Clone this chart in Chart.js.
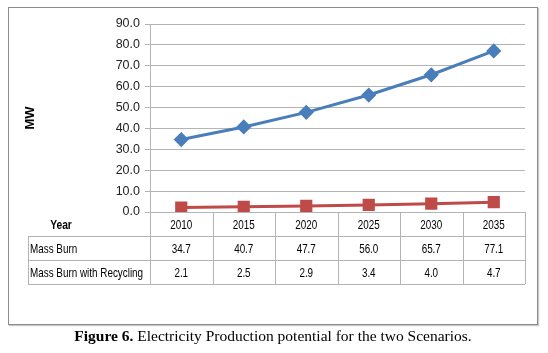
<!DOCTYPE html>
<html>
<head>
<meta charset="utf-8">
<script src="https://cdn.jsdelivr.net/npm/chart.js@4"></script>
<style>
  body{ margin:0; background:#fff; }
  #wrap{ position:relative; width:548px; height:353px; }
  #frame{ position:absolute; left:8px; top:7px; width:528px; height:316px; border:1px solid #8c8c8c; box-shadow:1px 1px 1px #c8c8c8; }
  canvas{ position:absolute; left:0; top:0; }
  #cap{ position:absolute; left:8px; width:530px; top:327px; text-align:center; font-family:'Liberation Serif','Times New Roman',serif; font-size:15.5px; color:#000; }
</style>
</head>
<body>
<div id="wrap">
  <div id="frame"></div>
  <canvas id="chart" width="548" height="353"></canvas>
  <div id="cap"><b>Figure 6.</b> Electricity Production potential for the two Scenarios.</div>
</div>
<script>
const years = ['2010','2015','2020','2025','2030','2035'];
const massBurn = [34.7, 40.7, 47.7, 56.0, 65.7, 77.1];
const massBurnRecycling = [2.1, 2.5, 2.9, 3.4, 4.0, 4.7];
const seriesNames = ['Mass Burn', 'Mass Burn with Recycling'];

const FONT = "'Liberation Sans',Arial,sans-serif";
const LINE = '#b4b4b4';
const SQUEEZE = 0.76; // narrow the table text (Calibri-like)

function txt(ctx, s, x, y, align){
  ctx.save();
  ctx.translate(x, y);
  ctx.scale(SQUEEZE, 1);
  ctx.textAlign = align;
  ctx.fillText(s, 0, 0);
  ctx.restore();
}

// data table under the plot, columns follow the x scale
const tablePlugin = {
  id:'dataTable',
  afterDraw(chart){
    const ctx = chart.ctx;
    const x = chart.scales.x;
    const area = chart.chartArea;
    const colW = area.width / years.length;
    const top = area.bottom, rowH = 24;
    const leftX = 28;
    ctx.save();
    ctx.strokeStyle = LINE;
    ctx.lineWidth = 1;
    ctx.beginPath();
    for(let r=1;r<=3;r++){
      const yy = Math.round(top + r*rowH) + 0.5;
      ctx.moveTo(leftX, yy); ctx.lineTo(area.right, yy);
    }
    for(let i=0;i<=years.length;i++){
      const xx = Math.round(area.left + i*colW) + 0.5;
      ctx.moveTo(xx, top); ctx.lineTo(xx, top + 3*rowH);
    }
    ctx.moveTo(leftX+0.5, top+rowH); ctx.lineTo(leftX+0.5, top+3*rowH);
    ctx.stroke();

    ctx.fillStyle = '#000';
    ctx.textBaseline = 'middle';
    ctx.font = 'bold 13.5px ' + FONT;
    txt(ctx, 'Year', 61, top + rowH/2 + 1, 'center');
    ctx.font = '13px ' + FONT;
    years.forEach((yr,i)=>{
      const cx = x.getPixelForValue(i);
      txt(ctx, yr, cx, top + rowH/2 + 1, 'center');
      txt(ctx, massBurn[i].toFixed(1), cx, top + rowH*1.5 + 1, 'center');
      txt(ctx, massBurnRecycling[i].toFixed(1), cx, top + rowH*2.5 + 1, 'center');
    });
    txt(ctx, seriesNames[0], 30, top + rowH*1.5 + 1, 'left');
    txt(ctx, seriesNames[1], 30, top + rowH*2.5 + 1, 'left');
    ctx.restore();
  }
};

new Chart(document.getElementById('chart'), {
  type:'line',
  data:{
    labels: years,
    datasets:[
      { label: seriesNames[0], data: massBurn, borderColor:'#4a7ebb', backgroundColor:'#4a7ebb',
        borderWidth:3, pointStyle:'rectRot', pointRadius:5.5, pointHoverRadius:5.5 },
      { label: seriesNames[1], data: massBurnRecycling, borderColor:'#be4b48', backgroundColor:'#be4b48',
        borderWidth:3, pointStyle:'rect', pointRadius:6.5, pointHoverRadius:6.5 }
    ]
  },
  options:{
    responsive:false,
    animation:false,
    layout:{ padding:{ left:23, right:23, top:24, bottom:141 } },
    plugins:{ legend:{ display:false }, tooltip:{ enabled:false } },
    scales:{
      x:{ display:false, offset:true },
      y:{
        min:0, max:90,
        afterFit(s){ s.width = 127; },
        ticks:{ stepSize:10, color:'#222', padding:5, font:{ family:FONT, size:12.5 },
                callback:(v)=>v.toFixed(1) },
        grid:{ color:LINE, tickLength:5 },
        border:{ color:LINE },
        title:{ display:true, text:'MW', color:'#000', font:{ family:FONT, size:13, weight:'bold' }, padding:0 }
      }
    }
  },
  plugins:[tablePlugin]
});
</script>
</body>
</html>
